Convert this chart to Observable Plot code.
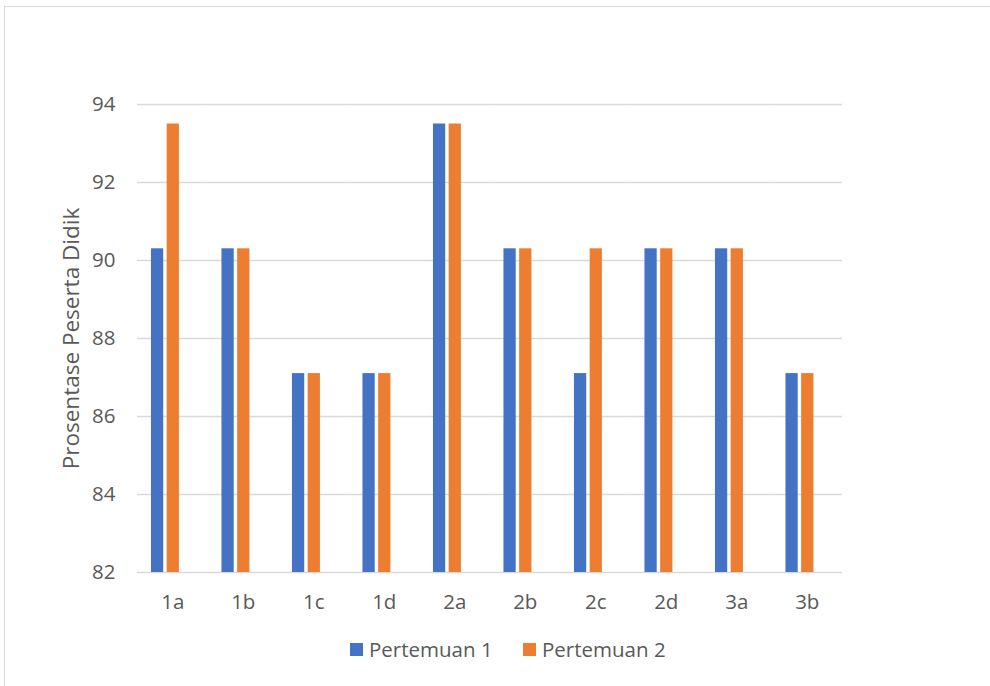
<!DOCTYPE html>
<html>
<head>
<meta charset="utf-8">
<script src="https://cdn.jsdelivr.net/npm/d3@7"></script>
<script src="https://cdn.jsdelivr.net/npm/@observablehq/plot@0.6"></script>
<style>
  html, body { margin: 0; padding: 0; background: #fff; }
  body { width: 990px; height: 686px; position: relative; overflow: hidden; font-family: "Open Sans", sans-serif; }
  #frame { position: absolute; left: 4px; top: 6px; width: 1000px; height: 700px; border-top: 1px solid #d9d9d9; border-left: 1px solid #d9d9d9; }
  #chart { position: absolute; left: 0; top: 0; }
  #chart svg text { font-size: 20.5px; fill: #595959; }
  #chart svg g[aria-label="y-axis label"] text { font-size: 22.5px; }
  #legend { position: absolute; left: 0; top: 630px; width: 990px; height: 56px; }
  .item { position: absolute; top: 5px; display: flex; align-items: center; color: #595959; font-size: 20.5px; }
  .sw { width: 13px; height: 13px; margin-right: 6px; }
</style>
</head>
<body>
<div id="frame"></div>
<div id="chart"></div>
<div id="legend"></div>
<script>
const categories = ["1a", "1b", "1c", "1d", "2a", "2b", "2c", "2d", "3a", "3b"];
const pertemuan1 = [90.3, 90.3, 87.1, 87.1, 93.5, 90.3, 87.1, 90.3, 90.3, 87.1];
const pertemuan2 = [93.5, 90.3, 87.1, 87.1, 93.5, 90.3, 90.3, 90.3, 90.3, 87.1];
const seriesNames = ["Pertemuan 1", "Pertemuan 2"];
const seriesColors = ["#4472C4", "#ED7D31"];
const yTicks = [82, 84, 86, 88, 90, 92, 94];
const yLabel = "Prosentase Peserta Didik";

const data = [];
categories.forEach((c, i) => {
  data.push({cat: c, series: seriesNames[0], value: pertemuan1[i]});
  data.push({cat: c, series: seriesNames[1], value: pertemuan2[i]});
});

const chart = Plot.plot({
  width: 990,
  height: 630,
  marginLeft: 137,
  marginRight: 148,
  marginTop: 104,
  marginBottom: 58,
  style: {fontFamily: "Open Sans, sans-serif", fontSize: "20.5px", color: "#595959", background: "transparent"},
  fx: {domain: categories, padding: 0, round: false, label: null, tickSize: 0, tickPadding: 22, axis: "bottom"},
  x: {domain: [...seriesNames, "_"], paddingInner: 0.22, paddingOuter: 0.855, align: 0.52, round: false, axis: null},
  y: {domain: [82, 94], ticks: yTicks, tickSize: 0, tickPadding: 22, label: yLabel, labelAnchor: "center", labelArrow: "none", labelOffset: 74, grid: false},
  color: {domain: seriesNames, range: seriesColors},
  marks: [
    Plot.ruleY(yTicks, {stroke: "#d9d9d9", strokeWidth: 1.3}),
    Plot.barY(data, {fx: "cat", x: "series", y1: 82, y2: "value", fill: "series"})
  ]
});
document.getElementById("chart").appendChild(chart);

const legend = document.getElementById("legend");
const lefts = [350, 523];
seriesNames.forEach((s, i) => {
  const item = document.createElement("div");
  item.className = "item";
  item.style.left = lefts[i] + "px";
  const sw = document.createElement("div");
  sw.className = "sw";
  sw.style.background = seriesColors[i];
  const t = document.createElement("span");
  t.textContent = s;
  item.appendChild(sw);
  item.appendChild(t);
  legend.appendChild(item);
});
</script>
</body>
</html>
